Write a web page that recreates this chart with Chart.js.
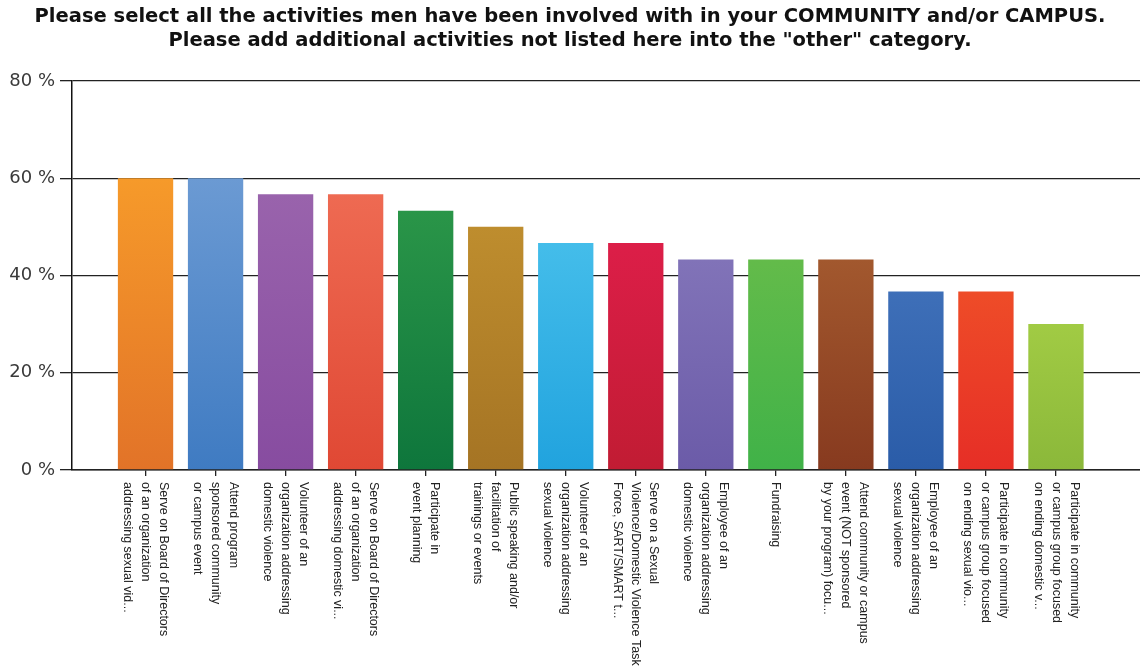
<!DOCTYPE html>
<html>
<head>
<meta charset="utf-8">
<script src="https://cdn.jsdelivr.net/npm/chart.js@4.4.1/dist/chart.umd.min.js"></script>
<style>
  html, body { margin: 0; padding: 0; background: #ffffff; }
  #wrap { width: 1140px; height: 670px; }
</style>
</head>
<body>
<div id="wrap"><canvas id="c" width="1140" height="670"></canvas></div>
<script>
// Survey question shown as the chart title
const titleLines = [
  'Please select all the activities men have been involved with in your COMMUNITY and/or CAMPUS.',
  'Please add additional activities not listed here into the "other" category.'
];

// Answer options (each inner array is one wrapped label)
const activities = [
  ['Serve on Board of Directors', 'of an organization', 'addressing sexual vid...'],
  ['Attend program', 'sponsored community', 'or campus event'],
  ['Volunteer of an', 'organization addressing', 'domestic violence'],
  ['Serve on Board of Directors', 'of an organization', 'addressing domestic vi...'],
  ['Participate in', 'event planning'],
  ['Public speaking and/or', 'facilitation of', 'trainings or events'],
  ['Volunteer of an', 'organization addressing', 'sexual violence'],
  ['Serve on a Sexual', 'Violence/Domestic Violence Task', 'Force, SART/SMART t...'],
  ['Employee of an', 'organization addressing', 'domestic violence'],
  ['Fundraising'],
  ['Attend community or campus', 'event (NOT sponsored', 'by your program) focu...'],
  ['Employee of an', 'organization addressing', 'sexual violence'],
  ['Participate in community', 'or campus group focused', 'on ending sexual vio...'],
  ['Participate in community', 'or campus group focused', 'on ending domestic v...']
];

// Share of respondents (%) per activity
const percentages = [60, 60, 56.7, 56.7, 53.3, 50, 46.7, 46.7, 43.3, 43.3, 43.3, 36.7, 36.7, 30];

// Value axis ticks (%)
const yTicks = [0, 20, 40, 60, 80];

// Bar gradient colours: top and bottom of each bar
const barTop = ['#F69A2A', '#6B9AD3', '#9963AC', '#EE6A52', '#2A9548', '#BE8D2E', '#44BDEA',
                '#DC1E48', '#8173B8', '#63BB4A', '#A2582E', '#3E6FB8', '#EE4C28', '#A1CB44'];
const barBottom = ['#E27328', '#3F7BC2', '#874CA0', '#E04834', '#0E763C', '#A57424', '#21A3DE',
                   '#C11C33', '#6B5BA8', '#40B248', '#873A1F', '#2A5CA8', '#E62E26', '#8BB83A'];

const LABEL_FONT = "'Liberation Sans', Arial, Helvetica, sans-serif";
const WIDE_FONT = "'DejaVu Sans', Verdana, sans-serif";

// Vertical gradient running from the top of each bar down to the axis
function barGradient(ctx) {
  const chart = ctx.chart;
  const i = ctx.dataIndex;
  const area = chart.chartArea;
  const yScale = chart.scales.y;
  if (!area || !yScale || ctx.raw == null) return barTop[i];
  const yTop = yScale.getPixelForValue(ctx.raw.y);
  const g = chart.ctx.createLinearGradient(0, yTop, 0, area.bottom);
  g.addColorStop(0, barTop[i]);
  g.addColorStop(1, barBottom[i]);
  return g;
}

// Category labels written downward (rotated clockwise), lines stacked right to left
const verticalLabels = {
  id: 'verticalLabels',
  afterDraw(chart) {
    const xs = chart.scales.x;
    const ctx = chart.ctx;
    const startY = chart.chartArea.bottom + 12;
    const lineGap = 18;
    ctx.save();
    ctx.font = '12.5px ' + LABEL_FONT;
    ctx.fillStyle = '#222222';
    ctx.textAlign = 'left';
    ctx.textBaseline = 'middle';
    activities.forEach((lines, i) => {
      const x = xs.getPixelForValue(i);
      ctx.save();
      ctx.translate(x, startY);
      ctx.rotate(Math.PI / 2);
      const n = lines.length;
      lines.forEach((line, k) => {
        ctx.fillText(line, 0, (k - (n - 1) / 2) * lineGap);
      });
      ctx.restore();
    });
    ctx.restore();
  }
};

new Chart(document.getElementById('c'), {
  type: 'bar',
  data: {
    datasets: [{
      data: percentages.map((v, i) => ({ x: i, y: v })),
      backgroundColor: barGradient,
      borderWidth: 0,
      categoryPercentage: 1,
      barPercentage: 0.79
    }]
  },
  options: {
    responsive: false,
    animation: false,
    devicePixelRatio: 1,
    layout: { padding: 0 },
    plugins: {
      legend: { display: false },
      tooltip: { enabled: false },
      title: {
        display: true,
        text: titleLines,
        color: '#111111',
        font: { family: WIDE_FONT, size: 19.5, weight: 'bold', lineHeight: 1.23 },
        padding: { top: 5, bottom: 28 }
      }
    },
    scales: {
      x: {
        type: 'linear',
        offset: false,
        min: -1.05,
        max: 14.2,
        afterBuildTicks: s => { s.ticks = percentages.map((_, i) => ({ value: i })); },
        afterFit: s => { s.height = 200; },
        ticks: { display: false },
        grid: { offset: false, drawOnChartArea: false, drawTicks: true, tickLength: 6, color: '#222222', lineWidth: 1.3 },
        border: { display: true, color: '#222222', width: 1.5 }
      },
      y: {
        min: 0,
        max: 80,
        afterBuildTicks: s => { s.ticks = yTicks.map(v => ({ value: v })); },
        afterFit: s => { s.width = 72; },
        ticks: {
          callback: v => v + ' %',
          color: '#3a3a3a',
          font: { family: WIDE_FONT, size: 18 },
          padding: 5
        },
        grid: { color: '#222222', lineWidth: 1.3, tickLength: 12, drawTicks: true },
        border: { display: true, color: '#111111', width: 1.5 }
      }
    }
  },
  plugins: [verticalLabels]
});
</script>
</body>
</html>
